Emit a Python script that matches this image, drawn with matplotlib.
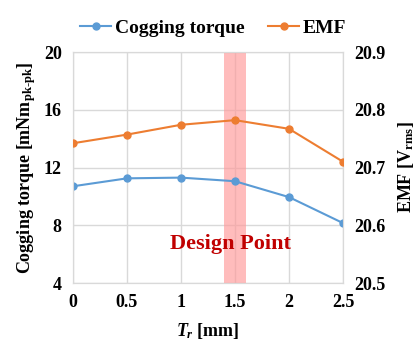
import matplotlib.pyplot as plt

plt.rcParams['font.family'] = 'Liberation Serif'
plt.rcParams['font.weight'] = 'bold'
plt.rcParams['mathtext.fontset'] = 'custom'
plt.rcParams['mathtext.rm'] = 'Liberation Serif:bold'
plt.rcParams['mathtext.it'] = 'Liberation Serif:italic:bold'
plt.rcParams['mathtext.bf'] = 'Liberation Serif:bold'

# Data
tr = [0, 0.5, 1, 1.5, 2, 2.5]
cogging = [10.7, 11.25, 11.3, 11.05, 9.95, 8.15]
emf = [20.742, 20.757, 20.774, 20.782, 20.767, 20.710]
design_band = (1.4, 1.6)

blue = '#5B9BD5'
orange = '#ED7D31'
grid_c = '#D9D9D9'

fig = plt.figure(figsize=(4.18, 3.5), dpi=100)
ax = fig.add_axes([0.1746, 0.1914, 0.646, 0.66])
ax2 = ax.twinx()

ax.axvspan(*design_band, color='#FF9999', alpha=0.65, lw=0, zorder=1)
l1, = ax.plot(tr, cogging, color=blue, marker='o', ms=5, lw=1.5, zorder=3,
              label='Cogging torque')
l2, = ax2.plot(tr, emf, color=orange, marker='o', ms=5, lw=1.5, zorder=3,
               label='EMF')

ax.set_xlim(0, 2.5)
ax.set_ylim(4, 20)
ax2.set_ylim(20.5, 20.9)
ax.set_xticks(tr)
ax.set_xticklabels(['0', '0.5', '1', '1.5', '2', '2.5'])
ax.set_yticks([4, 8, 12, 16, 20])
ax2.set_yticks([20.5, 20.6, 20.7, 20.8, 20.9])

ax.grid(True, color=grid_c, lw=1, zorder=0)
ax.set_axisbelow(True)
for a in (ax, ax2):
    for s in a.spines.values():
        s.set_color(grid_c)
    a.tick_params(length=0, labelsize=13, pad=8)
for lab in ax.get_xticklabels() + ax.get_yticklabels() + ax2.get_yticklabels():
    lab.set_fontweight('bold')

ax.set_ylabel('Cogging torque [mNm$_\\mathrm{pk\\text{-}pk}$]', fontsize=13,
              fontweight='bold', labelpad=4)
ax2.set_ylabel('EMF [V$_\\mathrm{rms}$]', fontsize=13, fontweight='bold',
               labelpad=8)
ax.set_xlabel('$T_r$ [mm]', fontsize=13, fontweight='bold', labelpad=7)

ax.text(1.46, 6.7, 'Design Point', color='#C00000', fontsize=16,
        fontweight='bold', ha='center', va='center', zorder=4)

fig.legend(handles=[l1, l2], loc='upper center', bbox_to_anchor=(0.51, 0.995),
           ncol=2, frameon=False, handlelength=1.6,
           handletextpad=0.2, columnspacing=1.2, prop={'weight': 'bold', 'size': 14})

fig.savefig('out.png', dpi=100)
